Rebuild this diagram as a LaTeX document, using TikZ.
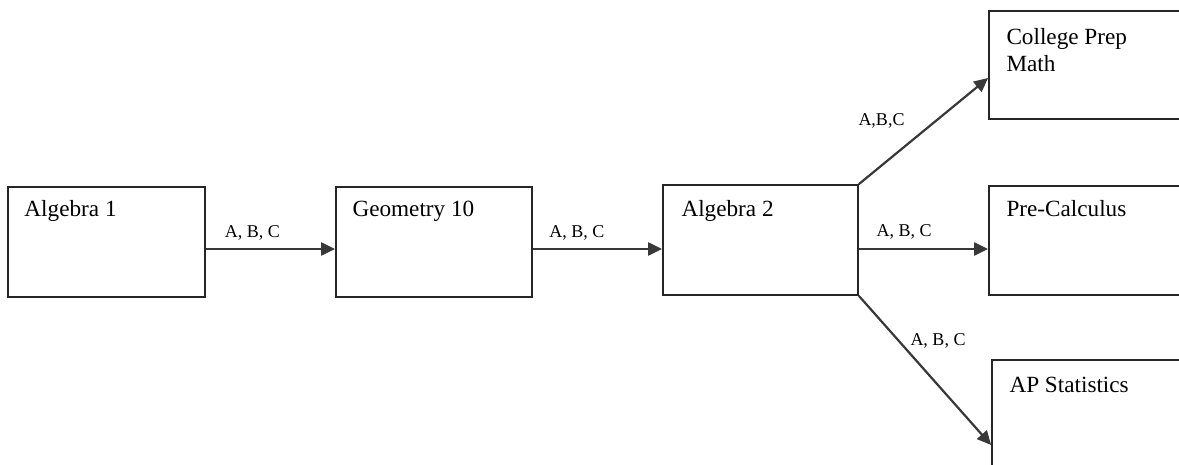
\documentclass[tikz,border=0pt]{standalone}
\usepackage{fontspec}
\setmainfont{Liberation Serif}
\usetikzlibrary{arrows.meta}
\tikzset{
  box/.style={draw=black!85, line width=0.9pt, rectangle, inner sep=0pt},
  boxtext/.style={anchor=base west, inner sep=0pt, align=left,
    font=\fontsize{11.6}{13.5}\selectfont},
  arr/.style={draw=black!78, line width=1.1pt, -{Triangle[length=7pt,width=6.5pt]}},
  lbl/.style={inner sep=0pt, anchor=base, font=\fontsize{9}{11}\selectfont}
}
\begin{document}
\begin{tikzpicture}[x=0.5pt,y=-0.5pt]
\clip (0,0) rectangle (1179,465);
\fill[white] (0,0) rectangle (1179,465);
% boxes
\node[box, minimum width=98.5pt, minimum height=55pt] (a1) at (106.5,242) {};
\node[box, minimum width=98pt, minimum height=55pt] (geo) at (434,242) {};
\node[box, minimum width=97.5pt, minimum height=55pt] (alg2) at (760.5,240) {};
\node[box, minimum width=105.5pt, minimum height=54pt] (cpm) at (1094.5,65) {};
\node[box, minimum width=105.5pt, minimum height=54.5pt] (pre) at (1094.5,240.5) {};
\node[box, minimum width=104pt, minimum height=60pt] (ap) at (1096,420) {};
% box texts
\node[boxtext] (t1) at ([shift={(17,30)}]a1.north west) {Algebra 1};
\node[boxtext] (t2) at ([shift={(17,30)}]geo.north west) {Geometry 10};
\node[boxtext] (t3) at ([shift={(19,32)}]alg2.north west) {Algebra 2};
\node[boxtext] (t4) at ([shift={(18,61)}]cpm.north west) {College Prep\\Math};
\node[boxtext] (t5) at ([shift={(18,31)}]pre.north west) {Pre-Calculus};
\node[boxtext] (t6) at ([shift={(18,33)}]ap.north west) {AP Statistics};
% arrows
\draw[arr] (a1.east |- 0,249) -- node[lbl, pos=0.36, yshift=6pt] (l1) {A, B, C} (geo.west |- 0,249);
\draw[arr] (geo.east |- 0,249) -- node[lbl, pos=0.34, yshift=6pt] (l2) {A, B, C} (alg2.west |- 0,249);
\draw[arr] (alg2.east |- 0,249) -- node[lbl, pos=0.35, yshift=6.5pt] (l3) {A, B, C} (pre.west |- 0,249);
\draw[arr] (alg2.north east) -- node[lbl, pos=0.5, xshift=-21pt, yshift=3pt] (l4) {A,B,C} (cpm.west |- 0,78);
\draw[arr] (alg2.south east) -- node[lbl, pos=0.5, xshift=6.5pt, yshift=12.5pt] (l5) {A, B, C} (ap.west |- 0,445);
\end{tikzpicture}
\end{document}
